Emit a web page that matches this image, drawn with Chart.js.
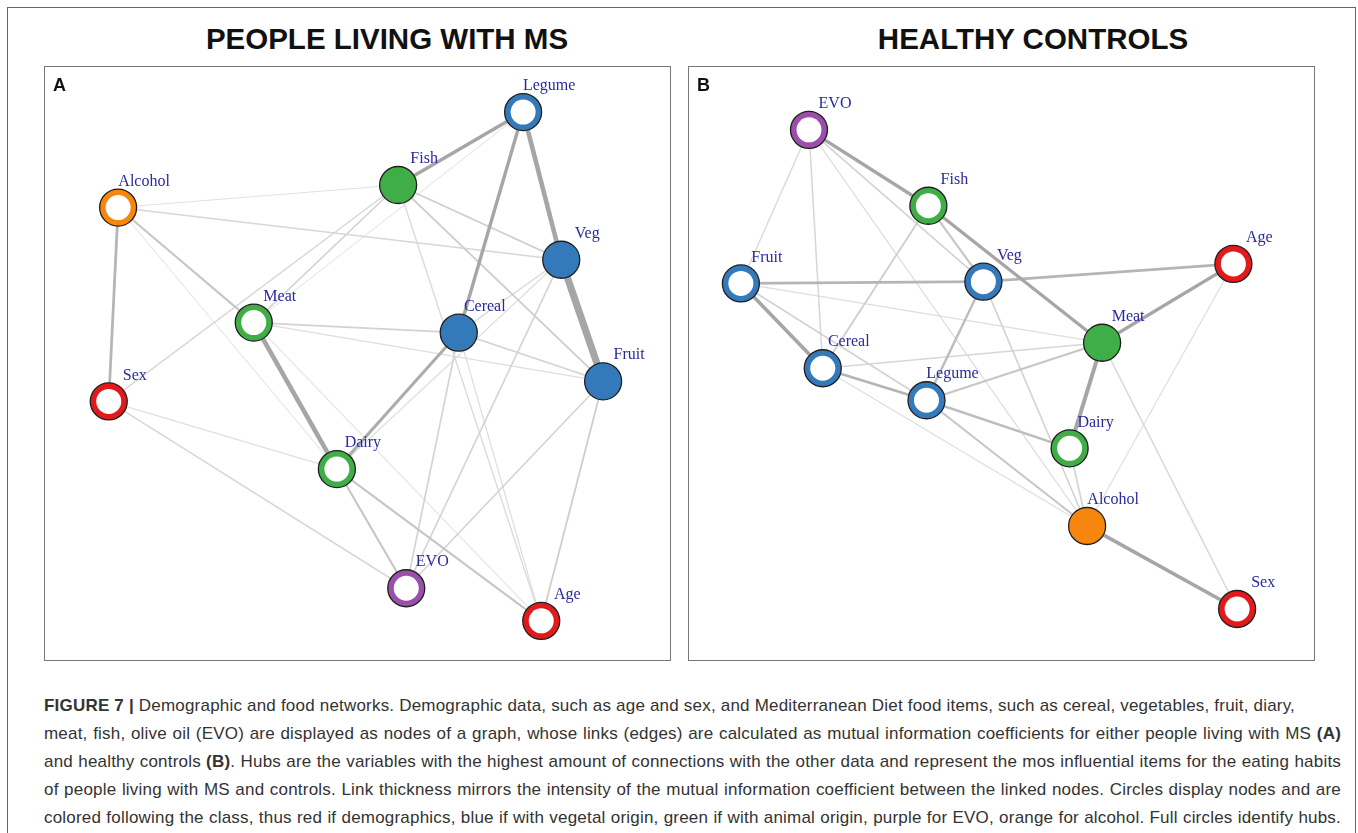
<!DOCTYPE html>
<html>
<head>
<meta charset="utf-8">
<title>Figure 7 - Demographic and food networks</title>
<script src="https://cdn.jsdelivr.net/npm/chart.js@4.4.1/dist/chart.umd.min.js"></script>
<style>
    body { margin: 0; background: #fff; font-family: "Liberation Sans", Arial, sans-serif; }
    #page { position: relative; width: 1358px; height: 833px; overflow: hidden; }
    #frame { position: absolute; left: 7px; top: 7px; width: 1347px; height: 900px; border: 1.5px solid #666; }
    .title { position: absolute; top: 22px; font-weight: bold; font-size: 29.5px; color: #111; transform: translateX(-50%); white-space: nowrap; }
    .panel { position: absolute; top: 66px; width: 625px; height: 593px; border: 1.5px solid #777; }
    .panel canvas { display: block; }
    .letter { position: absolute; left: 8px; top: 8px; font-weight: bold; font-size: 18px; color: #111; }
    .caption { position: absolute; left: 44px; top: 692px; width: 1297px; font-size: 17px; letter-spacing: 0.2px; color: #333; line-height: 27.9px; }
    .caption div { white-space: nowrap; }
    .caption .j { text-align: justify; text-align-last: justify; }
</style>
</head>
<body>
<div id="page">
    <div id="frame"></div>

    <div class="title" style="left:387px">PEOPLE LIVING WITH MS</div>
    <div class="title" style="left:1033px">HEALTHY CONTROLS</div>

    <div class="panel" style="left:44px">
        <canvas id="chartA" width="625" height="593"></canvas>
        <div class="letter">A</div>
    </div>
    <div class="panel" style="left:688px">
        <canvas id="chartB" width="625" height="593"></canvas>
        <div class="letter">B</div>
    </div>

    <div class="caption">
        <div><b>FIGURE 7 |</b> Demographic and food networks. Demographic data, such as age and sex, and Mediterranean Diet food items, such as cereal, vegetables, fruit, diary,</div>
        <div class="j">meat, fish, olive oil (EVO) are displayed as nodes of a graph, whose links (edges) are calculated as mutual information coefficients for either people living with MS <b>(A)</b></div>
        <div class="j">and healthy controls <b>(B)</b>. Hubs are the variables with the highest amount of connections with the other data and represent the mos influential items for the eating habits</div>
        <div class="j">of people living with MS and controls. Link thickness mirrors the intensity of the mutual information coefficient between the linked nodes. Circles display nodes and are</div>
        <div class="j">colored following the class, thus red if demographics, blue if with vegetal origin, green if with animal origin, purple for EVO, orange for alcohol. Full circles identify hubs.</div>
    </div>
</div>

<script>
/* ============================================================
   DATA - PANEL A (people living with MS)
   layout coordinates 0..100, y up
============================================================ */
const nodesA = ["Legume", "Fish", "Alcohol", "Veg", "Meat", "Cereal", "Fruit", "Sex", "Dairy", "EVO", "Age"];
const nodeXA = [76.5, 56.5, 11.7, 82.6, 33.4, 66.2, 89.3, 10.2, 46.7, 57.8, 79.4];
const nodeYA = [92.4, 80.1, 76.3, 67.5, 56.9, 55.2, 47.0, 43.6, 32.2, 12.1, 6.6];
const classA = ["veg", "animal", "alcohol", "veg", "animal", "veg", "veg", "demo", "animal", "evo", "demo"];
const hubsA = ["Fish", "Veg", "Cereal", "Fruit"];

// links: from, to, mutual information (relative strength)
const edgeFromA = ["Veg", "Legume", "Meat", "Legume", "Legume", "Cereal", "Alcohol", "Alcohol", "Dairy", "Dairy",
    "Fish", "Fish", "Fish", "Fish", "Alcohol", "Alcohol", "Alcohol", "Meat", "Meat", "Meat",
    "Sex", "Sex", "Cereal", "Cereal", "Cereal", "Cereal", "Veg", "Veg", "Fruit", "Fruit", "Fish", "Meat"];
const edgeToA = ["Fruit", "Veg", "Dairy", "Fish", "Cereal", "Dairy", "Sex", "Meat", "EVO", "Age",
    "Veg", "Fruit", "Meat", "Sex", "Veg", "Fish", "Dairy", "Cereal", "Fruit", "Age",
    "Dairy", "EVO", "EVO", "Age", "Fruit", "Veg", "EVO", "Dairy", "EVO", "Age", "Age", "Legume"];
const edgeWeightA = [1.0, 0.6, 0.6, 0.4, 0.4, 0.35, 0.3, 0.2, 0.2, 0.2,
    0.15, 0.15, 0.12, 0.1, 0.1, 0.04, 0.02, 0.12, 0.06, 0.03,
    0.05, 0.1, 0.12, 0.06, 0.12, 0.08, 0.12, 0.05, 0.12, 0.15, 0.08, 0.02];

/* ============================================================
   DATA - PANEL B (healthy controls)
============================================================ */
const nodesB = ["EVO", "Fish", "Fruit", "Veg", "Age", "Meat", "Cereal", "Legume", "Dairy", "Alcohol", "Sex"];
const nodeXB = [19.2, 38.3, 8.3, 47.1, 87.1, 66.1, 21.4, 38.0, 60.9, 63.7, 87.7];
const nodeYB = [89.4, 76.6, 63.5, 63.8, 66.8, 53.5, 49.2, 43.8, 35.7, 22.6, 8.6];
const classB = ["evo", "animal", "veg", "veg", "demo", "animal", "veg", "veg", "animal", "alcohol", "demo"];
const hubsB = ["Meat", "Alcohol"];

const edgeFromB = ["EVO", "Fish", "EVO", "EVO", "EVO", "EVO", "Fish", "Fish", "Fruit", "Fruit",
    "Fruit", "Fruit", "Veg", "Veg", "Veg", "Meat", "Meat", "Meat", "Meat", "Meat",
    "Age", "Alcohol", "Dairy", "Legume", "Legume", "Cereal", "Cereal"];
const edgeToB = ["Fish", "Meat", "Veg", "Fruit", "Cereal", "Alcohol", "Veg", "Cereal", "Veg", "Cereal",
    "Legume", "Meat", "Age", "Legume", "Alcohol", "Age", "Cereal", "Legume", "Dairy", "Sex",
    "Alcohol", "Sex", "Alcohol", "Dairy", "Alcohol", "Alcohol", "Legume"];
const edgeWeightB = [0.4, 0.4, 0.12, 0.08, 0.1, 0.06, 0.2, 0.15, 0.3, 0.45,
    0.12, 0.06, 0.3, 0.25, 0.12, 0.4, 0.1, 0.2, 0.5, 0.1,
    0.05, 0.45, 0.12, 0.25, 0.2, 0.06, 0.3];

/* ============================================================
   STYLE HELPERS
============================================================ */
const CLASS_COLORS = {
    demo: "#e31a1c",
    veg: "#3479ba",
    animal: "#3fae46",
    evo: "#9a4fab",
    alcohol: "#f7860f"
};

function edgeWidth(w) {
    return 0.9 + 6.2 * w;
}

function edgeColor(w) {
    const g = Math.round(232 - 66 * Math.min(1, w * 2.6));
    return `rgb(${g},${g},${g})`;
}

// node names above-right of each circle
const nodeLabels = {
    id: "nodeLabels",
    afterDatasetsDraw(chart, args, opts) {
        const ctx = chart.ctx;
        const sx = chart.scales.x;
        const sy = chart.scales.y;
        ctx.save();
        ctx.font = '16px "Liberation Serif", "Times New Roman", serif';
        ctx.fillStyle = "#2a2a9e";
        ctx.textAlign = "center";
        ctx.textBaseline = "middle";
        opts.names.forEach((n, i) => {
            const px = sx.getPixelForValue(opts.xs[i]);
            const py = sy.getPixelForValue(opts.ys[i]);
            ctx.fillText(n, px + 26, py - 26);
        });
        ctx.restore();
    }
};

/* ============================================================
   BUILD ONE NETWORK PANEL
============================================================ */
function buildNetwork(canvasId, names, xs, ys, classes, hubs, from, to, weight) {
    const canvas = document.getElementById(canvasId);
    const datasets = [];

    for (let i = 0; i < from.length; i++) {
        const a = names.indexOf(from[i]);
        const b = names.indexOf(to[i]);
        datasets.push({
            type: "line",
            data: [{ x: xs[a], y: ys[a] }, { x: xs[b], y: ys[b] }],
            borderColor: edgeColor(weight[i]),
            borderWidth: edgeWidth(weight[i]),
            pointRadius: 0,
            fill: false,
            order: 10 - weight[i] * 5
        });
    }

    const pts = names.map((n, i) => ({ x: xs[i], y: ys[i] }));

    // outer disc (class colour, dark outline)
    datasets.push({
        type: "scatter",
        data: pts,
        pointRadius: 18.5,
        pointHoverRadius: 18.5,
        pointBackgroundColor: classes.map(c => CLASS_COLORS[c]),
        pointBorderColor: "#1f1f1f",
        pointBorderWidth: 1.3,
        order: 2
    });

    // white centre for non-hub nodes
    datasets.push({
        type: "scatter",
        data: pts,
        pointRadius: names.map(n => hubs.includes(n) ? 0 : 12.5),
        pointHoverRadius: names.map(n => hubs.includes(n) ? 0 : 12.5),
        pointBackgroundColor: "#ffffff",
        pointBorderWidth: 0,
        order: 1
    });

    new Chart(canvas, {
        type: "scatter",
        data: { datasets: datasets },
        options: {
            responsive: false,
            animation: false,
            events: [],
            layout: { padding: 0, autoPadding: false },
            scales: {
                x: { type: "linear", min: 0, max: 100, display: false },
                y: { type: "linear", min: 0, max: 100, display: false }
            },
            plugins: {
                legend: { display: false },
                tooltip: { enabled: false },
                nodeLabels: { names: names, xs: xs, ys: ys }
            }
        },
        plugins: [nodeLabels]
    });
}

buildNetwork("chartA", nodesA, nodeXA, nodeYA, classA, hubsA, edgeFromA, edgeToA, edgeWeightA);
buildNetwork("chartB", nodesB, nodeXB, nodeYB, classB, hubsB, edgeFromB, edgeToB, edgeWeightB);
</script>
</body>
</html>
